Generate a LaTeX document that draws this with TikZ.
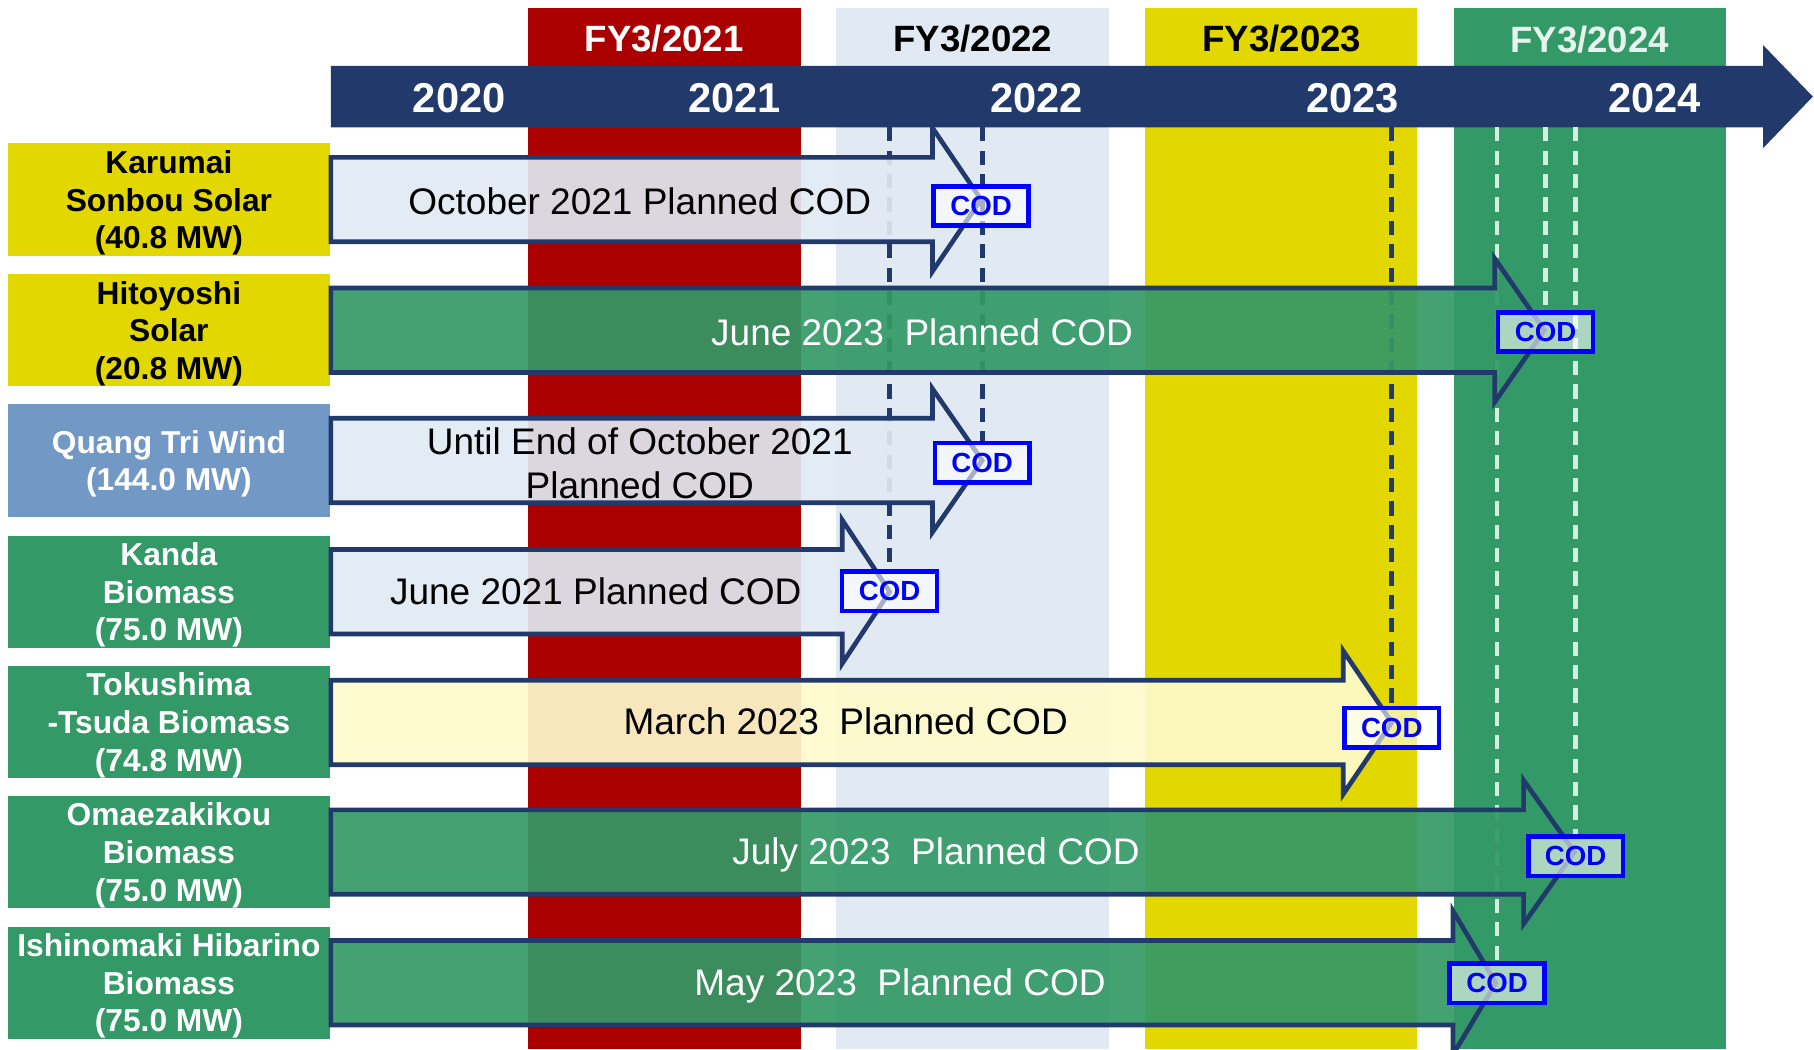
\documentclass[tikz,border=0pt]{standalone}
\usepackage{fontspec}
\setmainfont{Liberation Sans}
\usepackage{tikz}

\definecolor{navy}{RGB}{33,57,107}
\definecolor{fyred}{RGB}{170,0,0}
\definecolor{fyblue}{RGB}{225,233,243}
\definecolor{fyyellow}{RGB}{226,216,0}
\definecolor{fygreen}{RGB}{51,153,102}
\definecolor{windblue}{RGB}{114,153,198}
\definecolor{paleyellow}{RGB}{255,251,204}
\definecolor{palegreen}{RGB}{213,238,224}
\definecolor{codblue}{RGB}{0,0,255}

\tikzset{
    fy/.style = {font=\fontsize{18}{20}\selectfont\bfseries},
    year/.style = {text=white, font=\fontsize{20.5}{22}\selectfont\bfseries},
    site/.style = {minimum width=55.6mm, minimum height=19.4mm, inner sep=0pt,
        text depth=0pt, align=center, font=\fontsize{15.6}{18.5}\selectfont\bfseries},
    plan/.style = {draw=navy, line width=2.3pt, fill opacity=0.92, line join=miter},
    plantext/.style = {align=center, text depth=0pt, font=\fontsize{18.2}{21.6}\selectfont},
    codbox/.style = {draw=codblue, line width=2.2pt, fill=white, fill opacity=0.6,
        text opacity=1, text=codblue, minimum width=16.4mm, minimum height=6.8mm,
        inner sep=0pt, font=\fontsize{13.6}{14}\selectfont\bfseries},
    navydash/.style = {navy, line width=2.4pt, dash pattern=on 7pt off 4.5pt},
    greendash/.style = {palegreen, line width=2.4pt, dash pattern=on 7pt off 4.5pt}
}

% fill, centre y, head base x, tip x
\newcommand{\planarrow}[4]{%
    \draw[plan, fill=#1] (286,#2-36.5) -- (#3,#2-36.5) -- (#3,#2-62) -- (#4,#2)
        -- (#3,#2+62) -- (#3,#2+36.5) -- (286,#2+36.5) -- cycle;
}

\begin{document}
\begin{tikzpicture}[x=0.2mm, y=-0.2mm]
    \useasboundingbox (0,0) rectangle (1568,907);

    %% fiscal years
    \fill[fyred] (456,7) rectangle (692,907);
    \node[fy, text=white] (fy21) at (574,33) {FY3/2021};
    \fill[fyblue] (723,7) rectangle (959,907);
    \node[fy] (fy22) at (841,33) {FY3/2022};
    \fill[fyyellow] (990,7) rectangle (1225,907);
    \node[fy] (fy23) at (1108,33) {FY3/2023};
    \fill[fygreen] (1257,7) rectangle (1492,907);
    \node[fy, text=white!88!fygreen] (fy24) at (1374,34) {FY3/2024};

    %% calendar years
    \fill[navy] (286,57) -- (1524,57) -- (1524,39) -- (1567,83.5)
        -- (1524,128) -- (1524,110) -- (286,110) -- cycle;
    \coordinate (barbot) at (286,110);
    \node[year] (y2020) at (397,85) {2020};
    \node[year] (y2021) at (635,85) {2021};
    \node[year] (y2022) at (896,85) {2022};
    \node[year] (y2023) at (1169,85) {2023};
    \node[year] (y2024) at (1430,85) {2024};

    %% sites
    \node[site, fill=fyyellow] (karumai) at (146,172.5) {Karumai\\Sonbou Solar\\(40.8 MW)};
    \node[site, fill=fyyellow] (hitoyoshi) at (146,285.5) {Hitoyoshi\\Solar\\(20.8 MW)};
    \node[site, fill=windblue, text=white] (quangtri) at (146,398) {Quang Tri Wind\\(144.0 MW)};
    \node[site, fill=fygreen, text=white] (kanda) at (146,511.5) {Kanda\\Biomass\\(75.0 MW)};
    \node[site, fill=fygreen, text=white] (tokushima) at (146,624) {Tokushima\\-Tsuda Biomass\\(74.8 MW)};
    \node[site, fill=fygreen, text=white] (omaezaki) at (146,736.5) {Omaezakikou\\Biomass\\(75.0 MW)};
    \node[site, fill=fygreen, text=white] (ishinomaki) at (146,849.5) {Ishinomaki Hibarino\\Biomass\\(75.0 MW)};

    %% COD points
    \coordinate (karumaipt) at (848,178);
    \coordinate (hitoyoshipt) at (1336,287);
    \coordinate (quangtript) at (849,400);
    \coordinate (kandapt) at (769,511);
    \coordinate (tokushimapt) at (1203,629);
    \coordinate (omaezakipt) at (1362,740);
    \coordinate (ishinomakipt) at (1294,850);

    %% guide lines
    \draw[navydash] (barbot -| kandapt) -- ([yshift=3.4mm]kandapt);
    \draw[navydash] (barbot -| quangtript) -- ([yshift=3.4mm]quangtript);
    \draw[navydash] (barbot -| tokushimapt) -- ([yshift=3.4mm]tokushimapt);
    \draw[greendash] (barbot -| ishinomakipt) -- ([yshift=3.4mm]ishinomakipt);
    \draw[greendash] (barbot -| hitoyoshipt) -- ([yshift=3.4mm]hitoyoshipt);
    \draw[greendash] (barbot -| omaezakipt) -- ([yshift=3.4mm]omaezakipt);

    %% plans
    \planarrow{fyblue}{172.5}{806}{848}
    \node[plantext] (karumaiplan) at (553,174) {October 2021 Planned COD};
    \planarrow{fygreen}{285.5}{1292}{1335}
    \node[plantext, text=white] (hitoyoshiplan) at (797,287) {June 2023\ \ Planned COD};
    \planarrow{fyblue}{398}{806}{849}
    \node[plantext] (quangtriplan) at (553,400) {Until End of October 2021\\Planned COD};
    \planarrow{fyblue}{511.5}{728}{769}
    \node[plantext] (kandaplan) at (515,511) {June 2021 Planned COD};
    \planarrow{paleyellow}{624.5}{1161}{1203}
    \node[plantext] (tokushimaplan) at (731,623) {March 2023\ \ Planned COD};
    \planarrow{fygreen}{736.5}{1317}{1361}
    \node[plantext, text=white] (omaezakiplan) at (809,736) {July 2023\ \ Planned COD};
    \planarrow{fygreen}{849.5}{1256}{1293}
    \node[plantext, text=white] (ishinomakiplan) at (778,849) {May 2023\ \ Planned COD};

    %% COD marks
    \node[codbox] (karumaicod) at (karumaipt) {COD};
    \node[codbox] (hitoyoshicod) at (hitoyoshipt) {COD};
    \node[codbox] (quangtricod) at (quangtript) {COD};
    \node[codbox] (kandacod) at (kandapt) {COD};
    \node[codbox] (tokushimacod) at (tokushimapt) {COD};
    \node[codbox] (omaezakicod) at (omaezakipt) {COD};
    \node[codbox] (ishinomakicod) at (ishinomakipt) {COD};
\end{tikzpicture}
\end{document}
